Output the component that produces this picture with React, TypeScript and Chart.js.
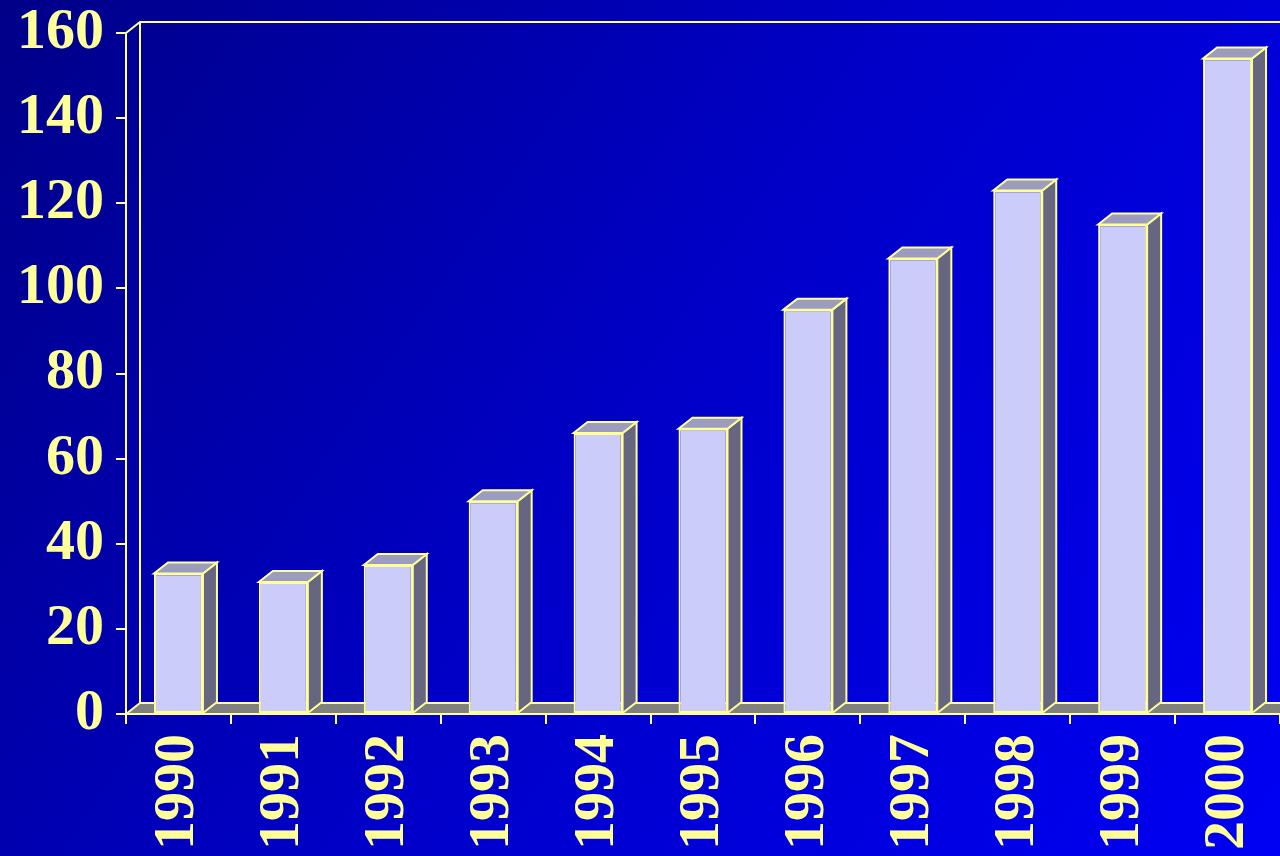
import React, { useEffect, useRef } from 'react';
import { Chart, registerables } from 'chart.js';

Chart.register(...registerables);

const years = ['1990', '1991', '1992', '1993', '1994', '1995', '1996', '1997', '1998', '1999', '2000'];
const values = [33, 31, 35, 50, 66, 67, 95, 107, 123, 115, 154];
const yMin = 0;
const yMax = 160;
const yStep = 20;

const DX = 14;
const DY = 11;
const YELLOW = '#FFFF99';
const FRONT = '#CCCCFA';
const TOP = '#9C9CC0';
const SIDE = '#666680';
const FLOOR = '#808080';
const FONT = '"Liberation Serif", "Times New Roman", serif';

const pseudo3d = {
  id: 'pseudo3d',
  beforeDraw(chart: any) {
    const { ctx, width, height } = chart;
    ctx.save();
    const g = ctx.createLinearGradient(0, 0, width, height);
    g.addColorStop(0, '#000088');
    g.addColorStop(0.5, '#0000C8');
    g.addColorStop(1, '#0000F4');
    ctx.fillStyle = g;
    ctx.fillRect(0, 0, width, height);
    ctx.restore();
  },
  beforeDatasetsDraw(chart: any) {
    const { ctx, chartArea } = chart;
    const { left, right, top, bottom } = chartArea;
    ctx.save();
    // floor
    ctx.fillStyle = FLOOR;
    ctx.beginPath();
    ctx.moveTo(left, bottom);
    ctx.lineTo(left + DX, bottom - DY);
    ctx.lineTo(right + DX, bottom - DY);
    ctx.lineTo(right, bottom);
    ctx.closePath();
    ctx.fill();
    ctx.strokeStyle = YELLOW;
    ctx.lineWidth = 2;
    ctx.beginPath();
    // back wall
    ctx.moveTo(left, top);
    ctx.lineTo(left + DX, top - DY);
    ctx.lineTo(right + DX, top - DY);
    ctx.moveTo(left + DX, top - DY);
    ctx.lineTo(left + DX, bottom - DY);
    ctx.lineTo(right + DX, bottom - DY);
    ctx.moveTo(left, bottom);
    ctx.lineTo(left + DX, bottom - DY);
    ctx.moveTo(left, bottom);
    ctx.lineTo(right + DX, bottom);
    ctx.stroke();
    ctx.restore();
  },
  afterDatasetsDraw(chart: any) {
    const { ctx } = chart;
    const meta = chart.getDatasetMeta(0);
    ctx.save();
    ctx.strokeStyle = YELLOW;
    ctx.lineWidth = 2;
    ctx.lineJoin = 'miter';
    meta.data.forEach((bar: any) => {
      const { x, y, base, width } = bar.getProps(['x', 'y', 'base', 'width'], true);
      const x0 = x - width / 2;
      const x1 = x + width / 2;
      // side face
      ctx.fillStyle = SIDE;
      ctx.beginPath();
      ctx.moveTo(x1, y);
      ctx.lineTo(x1 + DX, y - DY);
      ctx.lineTo(x1 + DX, base - DY);
      ctx.lineTo(x1, base);
      ctx.closePath();
      ctx.fill();
      ctx.stroke();
      // top face
      ctx.fillStyle = TOP;
      ctx.beginPath();
      ctx.moveTo(x0, y);
      ctx.lineTo(x0 + DX, y - DY);
      ctx.lineTo(x1 + DX, y - DY);
      ctx.lineTo(x1, y);
      ctx.closePath();
      ctx.fill();
      ctx.stroke();
    });
    ctx.restore();
  },
};

export default function App() {
  const canvasRef = useRef<HTMLCanvasElement | null>(null);

  useEffect(() => {
    if (!canvasRef.current) return;
    const chart = new Chart(canvasRef.current, {
      type: 'bar',
      data: {
        labels: years,
        datasets: [
          {
            data: values,
            backgroundColor: FRONT,
            borderColor: YELLOW,
            borderWidth: 2,
            borderSkipped: false,
            barPercentage: 0.467,
            categoryPercentage: 1,
          },
        ],
      },
      options: {
        responsive: false,
        animation: false,
        devicePixelRatio: 1,
        layout: { padding: { top: 33, right: 0, left: 0, bottom: 0 } },
        plugins: { legend: { display: false }, tooltip: { enabled: false } },
        scales: {
          x: {
            offset: true,
            grid: {
              offset: true,
              drawOnChartArea: false,
              drawTicks: true,
              tickLength: 10,
              color: YELLOW,
              lineWidth: 2,
            },
            border: { display: true, color: YELLOW, width: 2 },
            ticks: {
              color: YELLOW,
              font: { family: FONT, size: 58, weight: 'bold' },
              maxRotation: 90,
              minRotation: 90,
              padding: 10,
              autoSkip: false,
            },
            afterFit(scale: any) {
              scale.height = 142;
              scale.paddingLeft = 0;
              scale.paddingRight = 0;
            },
          },
          y: {
            min: yMin,
            max: yMax,
            grid: {
              drawOnChartArea: false,
              drawTicks: true,
              tickLength: 10,
              color: YELLOW,
              lineWidth: 2,
            },
            border: { display: true, color: YELLOW, width: 2 },
            ticks: {
              stepSize: yStep,
              color: YELLOW,
              font: { family: FONT, size: 58, weight: 'bold' },
              padding: 12,
            },
            afterFit(scale: any) {
              scale.width = 126;
              scale.paddingTop = 0;
              scale.paddingBottom = 0;
            },
          },
        },
      },
      plugins: [pseudo3d],
    });
    return () => chart.destroy();
  }, []);

  return (
    <div style={{ position: 'absolute', left: 0, top: 0, width: 1280, height: 856 }}>
      <canvas ref={canvasRef} width={1280} height={856} />
    </div>
  );
}
